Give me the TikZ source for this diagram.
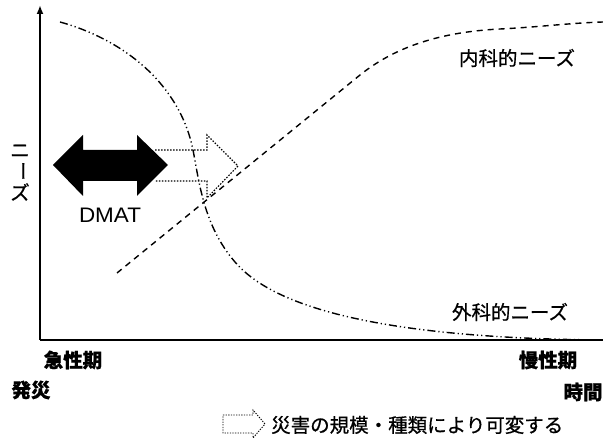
\documentclass[tikz,border=0pt]{standalone}
\usepackage{fontspec}
\usetikzlibrary{arrows.meta}
\newfontfamily\jp[FakeBold=0.7]{Noto Sans CJK JP}
\newfontfamily\lat{Liberation Sans}
\begin{document}
\begin{tikzpicture}[x=1pt,y=-1pt,
  jtext/.style={font=\jp\fontsize{19.5}{20}\selectfont, inner sep=0pt},
  jbold/.style={font=\jp\bfseries\fontsize{19.5}{20}\selectfont, inner sep=0pt},
  axis/.style={line width=1.8pt},
  surg/.style={line width=1.4pt, dash pattern=on 8pt off 3pt on 1.2pt off 3pt on 1.2pt off 3pt},
  intern/.style={line width=1.4pt, dash pattern=on 6pt off 5pt},
  dotline/.style={line width=1.1pt, dash pattern=on 1.5pt off 1.5pt}]
\useasboundingbox (0,0) rectangle (603,438);
% axes
\coordinate (O) at (40,340);
\coordinate (ytop) at (40,5);
\coordinate (xend) at (603,340);
\draw[axis] (O) -- (xend);
\draw[axis,-{Latex[length=9pt,width=7pt]}] (O) -- (ytop);
% surgical needs (dash-dot-dot)
\draw[surg] (60,22) .. controls (125,40) and (180,85) .. (193,150)
  .. controls (199,180) and (203,225) .. (235,262)
  .. controls (260,291) and (330,338) .. (603,340);
% internal needs (dashed)
\draw[intern] (117,273) -- (360,75) .. controls (395,47) and (440,32) .. (500,29)
  .. controls (540,27) and (570,23) .. (603,22);
% DMAT double arrow
\fill[black] (53,165) -- (83,135) -- (83,150) -- (137,150) -- (137,135) -- (168,165) -- (137,196) -- (137,181) -- (83,181) -- (83,196) -- cycle;
\node[font=\lat\fontsize{21}{21}\selectfont, inner sep=0pt, xscale=1.07] (dmat) at (110,215) {DMAT};
% dotted hollow arrow
\draw[dotline] (155,150) -- (207,150) -- (207,135) -- (238,166) -- (207,198) -- (207,181) -- (155,181);
% labels
\node[jtext] (naika) at (517,58) {内科的ニーズ};
\node[jtext] (geka) at (510,312) {外科的ニーズ};
\node[jbold] (kyusei) at (73,360) {急性期};
\node[jbold] (hassai) at (31,390) {発災};
\node[jbold] (mansei) at (548,360) {慢性期};
\node[jbold] (jikan) at (583,392) {時間};
% y label (vertical)
\node[jtext] (y1) at (20,151) {ニ};
\node[jtext, rotate=-90] (y2) at (20,171) {ー};
\node[jtext] (y3) at (20,192) {ズ};
% legend
\draw[line width=0.9pt, dash pattern=on 1.3pt off 1.3pt] (223,415) -- (253,415) -- (253,410) -- (265,424) -- (253,438) -- (253,433) -- (223,433) -- cycle;
\node[jtext, anchor=west] (legend) at (271,425) {災害の規模・種類により可変する};
\end{tikzpicture}
\end{document}
